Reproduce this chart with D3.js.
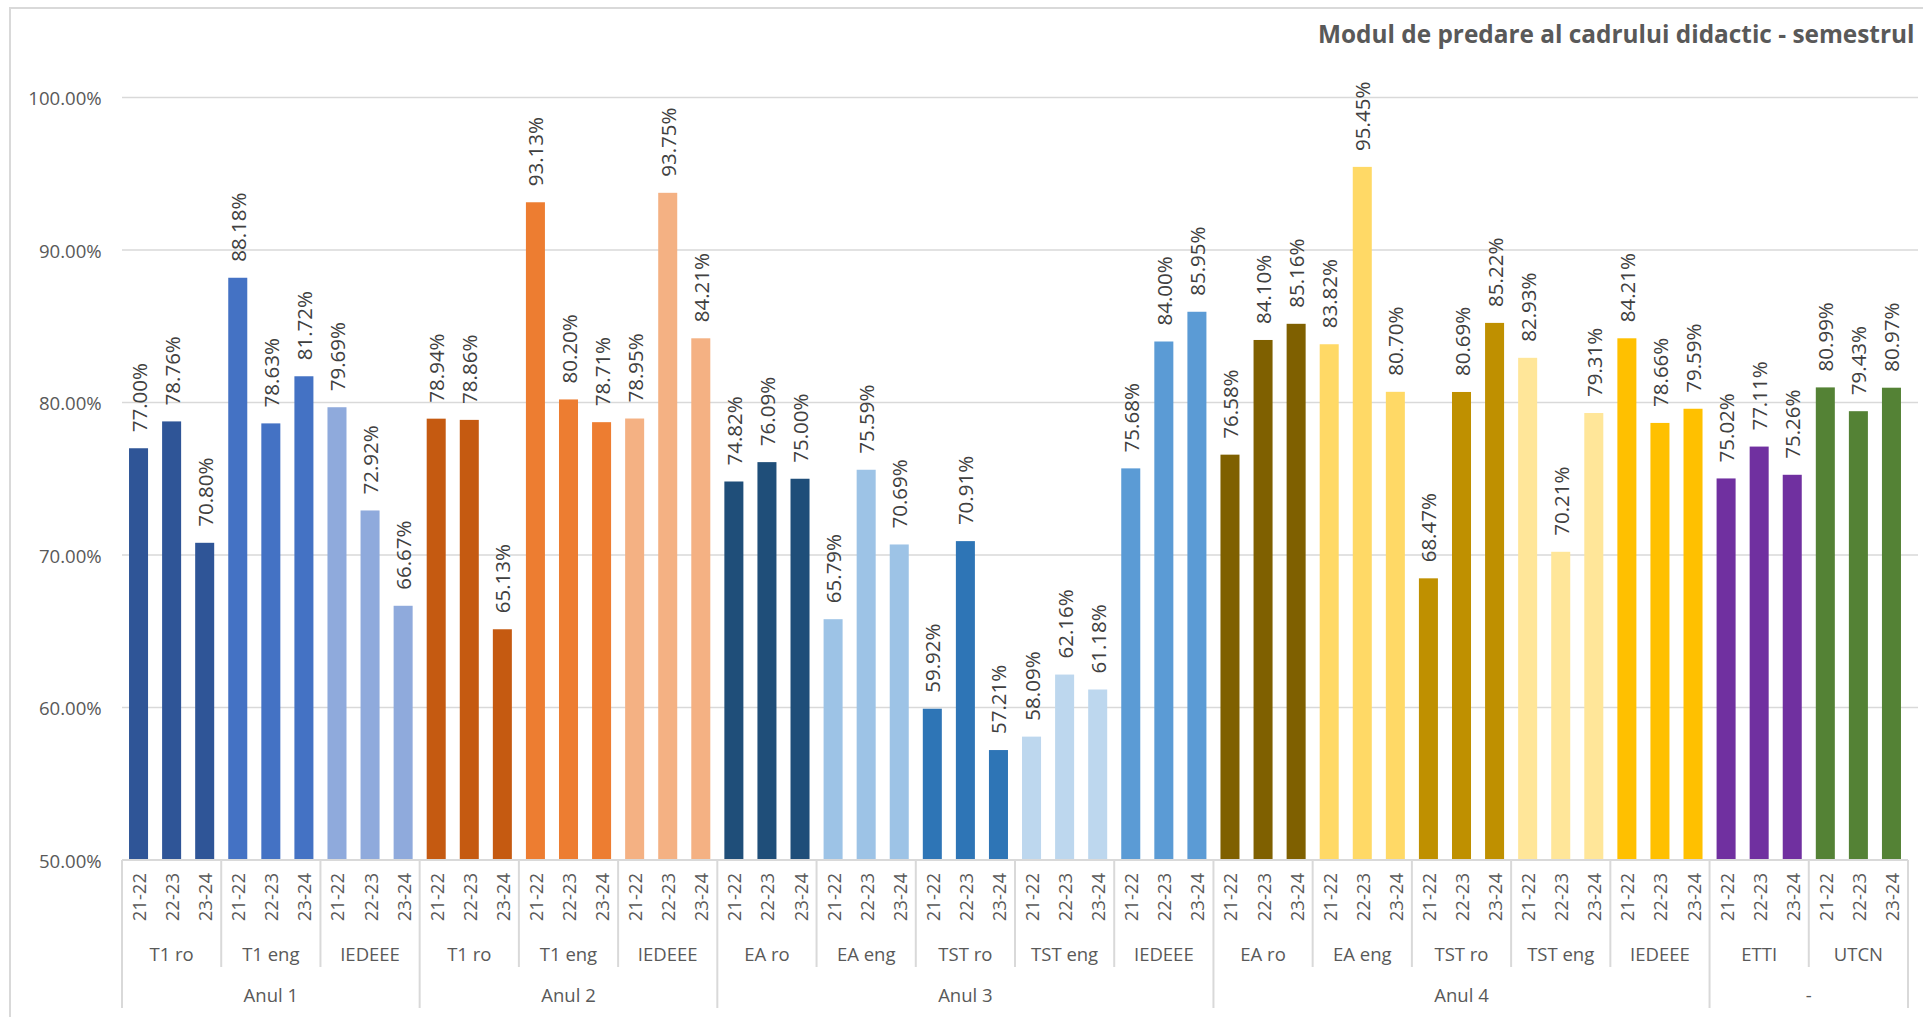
<!DOCTYPE html>
<html>
<head>
<meta charset="utf-8">
<script src="https://cdn.jsdelivr.net/npm/d3@7"></script>
<style>
  html, body { margin: 0; padding: 0; background: #fff; }
  svg { display: block; }
  text { font-family: "Open Sans", "Noto Sans", sans-serif; }
</style>
</head>
<body>
<svg id="chart" width="1923" height="1017"></svg>
<script>
const title = "Modul de predare al cadrului didactic - semestrul";
const years = ["21-22", "22-23", "23-24"];
const yTicks = [50, 60, 70, 80, 90, 100];

const groupNames = ["Anul 1", "Anul 2", "Anul 3", "Anul 4", "-"];
const subgroupNames = [
  "T1 ro", "T1 eng", "IEDEEE",
  "T1 ro", "T1 eng", "IEDEEE",
  "EA ro", "EA eng", "TST ro", "TST eng", "IEDEEE",
  "EA ro", "EA eng", "TST ro", "TST eng", "IEDEEE",
  "ETTI", "UTCN"
];
const subgroupGroup = [
  "Anul 1", "Anul 1", "Anul 1",
  "Anul 2", "Anul 2", "Anul 2",
  "Anul 3", "Anul 3", "Anul 3", "Anul 3", "Anul 3",
  "Anul 4", "Anul 4", "Anul 4", "Anul 4", "Anul 4",
  "-", "-"
];
const values = [
  [77.00, 78.76, 70.80],
  [88.18, 78.63, 81.72],
  [79.69, 72.92, 66.67],
  [78.94, 78.86, 65.13],
  [93.13, 80.20, 78.71],
  [78.95, 93.75, 84.21],
  [74.82, 76.09, 75.00],
  [65.79, 75.59, 70.69],
  [59.92, 70.91, 57.21],
  [58.09, 62.16, 61.18],
  [75.68, 84.00, 85.95],
  [76.58, 84.10, 85.16],
  [83.82, 95.45, 80.70],
  [68.47, 80.69, 85.22],
  [82.93, 70.21, 79.31],
  [84.21, 78.66, 79.59],
  [75.02, 77.11, 75.26],
  [80.99, 79.43, 80.97]
];
const subgroupColors = [
  "#2F5597", "#4472C4", "#8FAADC",
  "#C55A11", "#ED7D31", "#F4B183",
  "#1F4E79", "#9DC3E6", "#2E75B6", "#BDD7EE", "#5B9BD5",
  "#7F6000", "#FFD966", "#BF9000", "#FFE699", "#FFC000",
  "#7030A0", "#548235"
];

// flatten
const cats = [];
subgroupNames.forEach((s, i) => {
  years.forEach((yr, j) => {
    cats.push({ key: i + "|" + j, sub: i, year: yr, value: values[i][j], color: subgroupColors[i] });
  });
});

const svg = d3.select("#chart");
const plotL = 122, plotR = 1908, gridR = 1918;
const x = d3.scaleBand().domain(cats.map(d => d.key)).range([plotL, plotR]).paddingInner(0.425).paddingOuter(0.2125);
const y = d3.scaleLinear().domain([50, 100]).range([860, 97.5]);
const step = x.step();
const boundary = k => k >= cats.length ? plotR : x(cats[k].key) - (step - x.bandwidth()) / 2;

const lineColor = "#d9d9d9";
const textColor = "#595959";

// chart border
svg.append("path").attr("d", "M10,1017 L10,8 L1923,8").attr("fill", "none").attr("stroke", lineColor).attr("stroke-width", 2);

// title
const t = svg.append("text").attr("x", 1318).attr("y", 43).attr("fill", textColor)
  .attr("font-weight", "bold").attr("font-size", 24).text(title);
const tw = t.node().getComputedTextLength();
t.attr("font-size", 24 * 597 / tw);

// gridlines
svg.append("g").selectAll("line").data(yTicks.filter(v => v > 50)).join("line")
  .attr("x1", plotL).attr("x2", gridR).attr("y1", d => y(d)).attr("y2", d => y(d))
  .attr("stroke", lineColor).attr("stroke-width", 1.5);

// y axis labels
svg.append("g").selectAll("text").data(yTicks).join("text")
  .attr("x", 101.7).attr("y", d => y(d)).attr("text-anchor", "end").attr("dominant-baseline", "central")
  .attr("fill", textColor).attr("font-size", 18.6).text(d => d.toFixed(2) + "%");

// bars
svg.append("g").selectAll("rect").data(cats).join("rect")
  .attr("x", d => x(d.key)).attr("width", x.bandwidth())
  .attr("y", d => y(d.value)).attr("height", d => y(50) - y(d.value))
  .attr("fill", d => d.color);

// data labels
svg.append("g").selectAll("text").data(cats).join("text")
  .attr("transform", d => `translate(${x(d.key) + x.bandwidth() / 2},${y(d.value) - 16}) rotate(-90)`)
  .attr("dominant-baseline", "central").attr("text-anchor", "start")
  .attr("fill", "#404040").attr("font-size", 20.5).text(d => d.value.toFixed(2) + "%");

// category axis line
svg.append("line").attr("x1", plotL).attr("x2", plotR).attr("y1", y(50)).attr("y2", y(50))
  .attr("stroke", lineColor).attr("stroke-width", 2);

// year tick labels
svg.append("g").selectAll("text").data(cats).join("text")
  .attr("transform", d => `translate(${x(d.key) + x.bandwidth() / 2},873) rotate(-90)`)
  .attr("dominant-baseline", "central").attr("text-anchor", "end")
  .attr("fill", textColor).attr("font-size", 18.5).text(d => d.year);

// subgroup separators and labels
const sepG = svg.append("g");
subgroupNames.forEach((s, i) => {
  const k0 = i * years.length, k1 = k0 + years.length;
  const a = boundary(k0), b = boundary(k1);
  svg.append("text").attr("x", (a + b) / 2).attr("y", 953).attr("text-anchor", "middle")
    .attr("dominant-baseline", "central").attr("fill", textColor).attr("font-size", 18.5).text(s);
});
// boundaries
const nSub = subgroupNames.length;
for (let i = 0; i <= nSub; i++) {
  const k = i * years.length;
  const isGroupEdge = i === 0 || i === nSub || subgroupGroup[i] !== subgroupGroup[i - 1];
  sepG.append("line").attr("x1", boundary(k)).attr("x2", boundary(k))
    .attr("y1", y(50)).attr("y2", isGroupEdge ? 1008 : 967)
    .attr("stroke", lineColor).attr("stroke-width", 2);
}
// group labels
groupNames.forEach(g => {
  const idx = subgroupGroup.map((sg, i) => sg === g ? i : -1).filter(i => i >= 0);
  const a = boundary(idx[0] * years.length), b = boundary((idx[idx.length - 1] + 1) * years.length);
  svg.append("text").attr("x", (a + b) / 2).attr("y", 994).attr("text-anchor", "middle")
    .attr("dominant-baseline", "central").attr("fill", textColor).attr("font-size", 18.5).text(g);
});
</script>
</body>
</html>
